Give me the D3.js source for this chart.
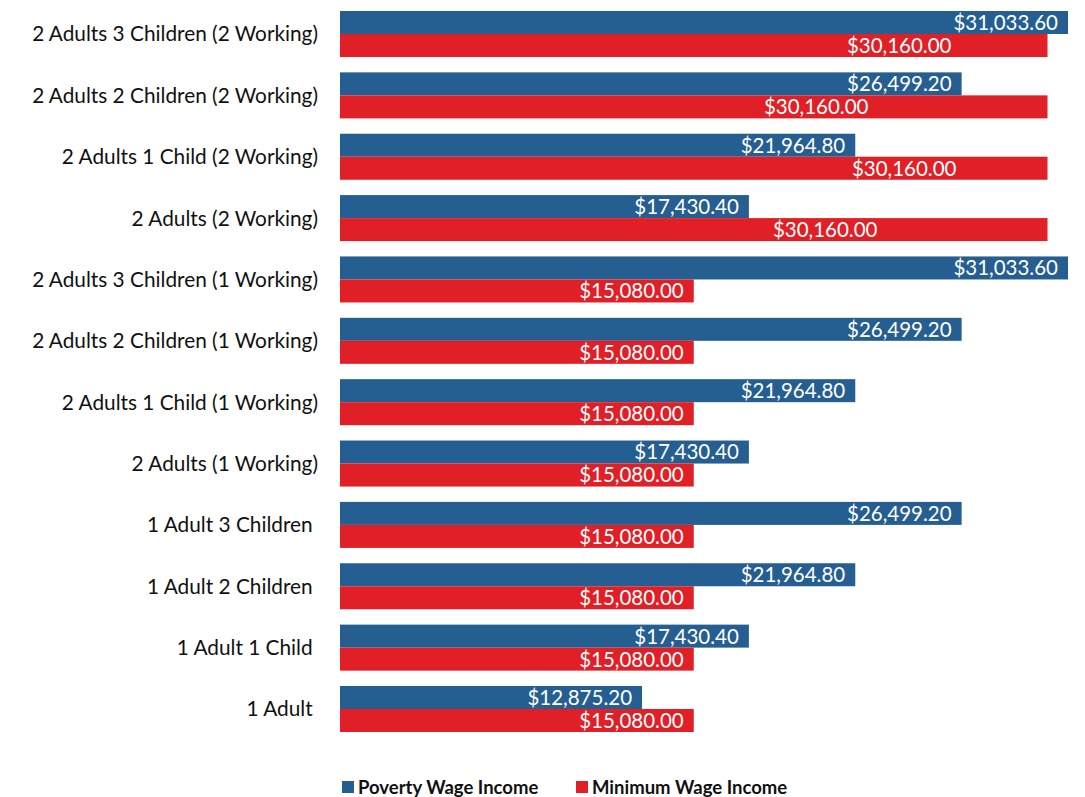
<!DOCTYPE html>
<html>
<head>
<meta charset="utf-8">
<script src="https://cdn.jsdelivr.net/npm/d3@7"></script>
<style>
  body { margin: 0; background: #fff; }
  svg { display: block; font-family: Lato, "Open Sans", sans-serif; }
  text { white-space: pre; }
</style>
</head>
<body>
<svg id="chart" width="1085" height="797"></svg>
<script>
// the single-adult labels carry a trailing space, as in the original
const categories = [
  "2 Adults 3 Children (2 Working)",
  "2 Adults 2 Children (2 Working)",
  "2 Adults 1 Child (2 Working)",
  "2 Adults (2 Working)",
  "2 Adults 3 Children (1 Working)",
  "2 Adults 2 Children (1 Working)",
  "2 Adults 1 Child (1 Working)",
  "2 Adults (1 Working)",
  "1 Adult 3 Children ",
  "1 Adult 2 Children ",
  "1 Adult 1 Child ",
  "1 Adult "
];
const povertyWage = [31033.6, 26499.2, 21964.8, 17430.4, 31033.6, 26499.2, 21964.8, 17430.4, 26499.2, 21964.8, 17430.4, 12875.2];
const minimumWage = [30160, 30160, 30160, 30160, 15080, 15080, 15080, 15080, 15080, 15080, 15080, 15080];
const seriesNames = ["Poverty Wage Income", "Minimum Wage Income"];
const seriesColors = ["#255e91", "#e01f26"];

// label inset from bar end (px); the top four red labels sit further left in the original
const labelInset = [
  [10, 10, 10, 10, 10, 10, 10, 10, 10, 10, 10, 10],
  [96, 179, 91, 170, 10, 10, 10, 10, 10, 10, 10, 10]
];

const svg = d3.select("#chart");

const x = d3.scaleLinear().domain([0, 31033.6]).range([340, 1068]);
const y = d3.scaleBand().domain(categories).range([11, 732]).paddingInner(0.25).paddingOuter(0);
const ySub = d3.scaleBand().domain([0, 1]).range([0, y.bandwidth()]);

const fmt = d3.format("$,.2f");

const rows = categories.map((c, i) => ({ cat: c, i, values: [povertyWage[i], minimumWage[i]] }));

const g = svg.append("g")
  .selectAll("g")
  .data(rows)
  .join("g")
  .attr("transform", (d) => `translate(0,${y(d.cat)})`);

const bars = g.selectAll("g.bar")
  .data((d) => d.values.map((v, k) => ({ v, k, i: d.i })))
  .join("g")
  .attr("class", "bar");

bars.append("rect")
  .attr("x", x(0))
  .attr("y", (d) => ySub(d.k))
  .attr("width", (d) => x(d.v) - x(0))
  .attr("height", ySub.bandwidth())
  .attr("fill", (d) => seriesColors[d.k]);

bars.append("text")
  .attr("x", (d) => x(d.v) - labelInset[d.k][d.i])
  .attr("y", (d) => ySub(d.k) + ySub.bandwidth() / 2)
  .attr("dy", "0.36em")
  .attr("text-anchor", "end")
  .attr("fill", "#fff")
  .attr("font-size", 20.5)
  .text((d) => fmt(d.v));

// category labels
svg.append("g")
  .selectAll("text")
  .data(categories)
  .join("text")
  .attr("x", 318)
  .attr("y", (d) => y(d) + y.bandwidth() / 2)
  .attr("dy", "0.36em")
  .attr("text-anchor", "end")
  .attr("fill", "#111")
  .attr("font-size", 20.8)
  .text((d) => d);

// legend
const legendX = [342, 576];
const legend = svg.append("g")
  .selectAll("g")
  .data(seriesNames)
  .join("g")
  .attr("transform", (d, i) => `translate(${legendX[i]},781)`);
legend.append("rect")
  .attr("width", 12)
  .attr("height", 12)
  .attr("fill", (d, i) => seriesColors[i]);
legend.append("text")
  .attr("x", 16)
  .attr("y", 6)
  .attr("dy", "0.36em")
  .attr("font-size", 18.5)
  .attr("font-weight", "bold")
  .attr("fill", "#111")
  .text((d) => d);
</script>
</body>
</html>
